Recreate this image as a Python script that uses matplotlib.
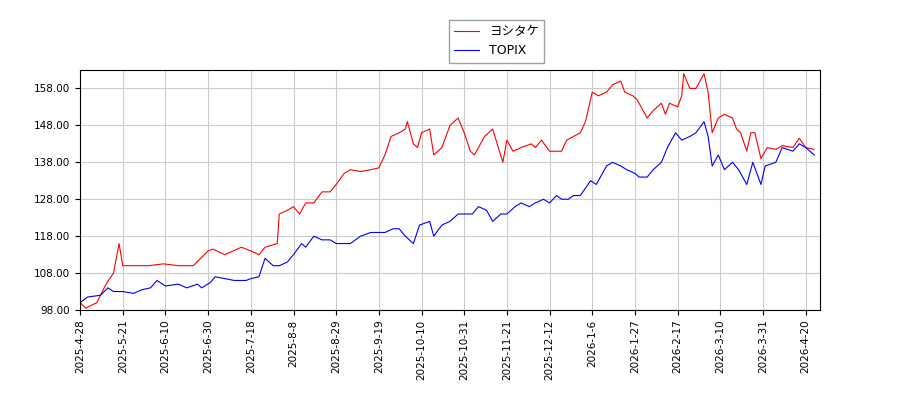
import matplotlib
matplotlib.use("Agg")
import matplotlib.pyplot as plt
import numpy as np
import pandas as pd

plt.rcParams['font.family'] = ['DejaVu Sans', 'Noto Sans CJK JP']

red_dates = ["2025-04-28","2025-05-01","2025-05-07","2025-05-12","2025-05-16","2025-05-19","2025-05-21","2025-05-26","2025-06-02","2025-06-09","2025-06-16","2025-06-23","2025-06-30","2025-07-02","2025-07-07","2025-07-14","2025-07-18","2025-07-22","2025-07-25","2025-07-31","2025-08-01","2025-08-05","2025-08-08","2025-08-11","2025-08-14","2025-08-18","2025-08-22","2025-08-26","2025-08-29","2025-09-02","2025-09-05","2025-09-10","2025-09-15","2025-09-19","2025-09-22","2025-09-25","2025-09-29","2025-10-02","2025-10-03","2025-10-06","2025-10-08","2025-10-10","2025-10-14","2025-10-16","2025-10-20","2025-10-22","2025-10-24","2025-10-28","2025-10-31","2025-11-03","2025-11-05","2025-11-10","2025-11-14","2025-11-19","2025-11-21","2025-11-24","2025-11-28","2025-12-03","2025-12-05","2025-12-08","2025-12-12","2025-12-16","2025-12-19","2025-12-22","2025-12-26","2025-12-30","2026-01-02","2026-01-06","2026-01-09","2026-01-13","2026-01-16","2026-01-20","2026-01-22","2026-01-26","2026-01-28","2026-02-02","2026-02-05","2026-02-09","2026-02-11","2026-02-13","2026-02-17","2026-02-19","2026-02-20","2026-02-23","2026-02-26","2026-03-02","2026-03-04","2026-03-06","2026-03-09","2026-03-12","2026-03-16","2026-03-18","2026-03-20","2026-03-23","2026-03-25","2026-03-27","2026-03-30","2026-04-02","2026-04-06","2026-04-09","2026-04-14","2026-04-17","2026-04-20","2026-04-24"]
red_vals = [100,98.5,100,105,108,116,110,110,110,110.5,110,110,114,114.5,113,115,114,113,115,116,124,125,126,124,127,127,130,130,132,135,136,135.5,136,136.5,140,145,146,147,149,143,142,146,147,140,142,145,148,150,146,141,140,145,147,138,144,141,142,143,142,144,141,141,141,144,145,146,149,157,156,157,159,160,157,156,155,150,152,154,151,154,153,156,162,158,158,162,157,146,150,151,150,147,146,141,146,146,139,142,141.5,142.5,142,144.5,142,141.5]

blue_dates = ["2025-04-28","2025-05-02","2025-05-09","2025-05-13","2025-05-16","2025-05-21","2025-05-26","2025-05-30","2025-06-03","2025-06-06","2025-06-10","2025-06-16","2025-06-20","2025-06-25","2025-06-27","2025-07-01","2025-07-03","2025-07-07","2025-07-11","2025-07-16","2025-07-18","2025-07-22","2025-07-25","2025-07-29","2025-08-01","2025-08-05","2025-08-08","2025-08-12","2025-08-14","2025-08-18","2025-08-22","2025-08-26","2025-08-29","2025-09-02","2025-09-05","2025-09-10","2025-09-15","2025-09-19","2025-09-22","2025-09-26","2025-09-29","2025-10-02","2025-10-06","2025-10-09","2025-10-14","2025-10-16","2025-10-20","2025-10-24","2025-10-28","2025-10-31","2025-11-04","2025-11-07","2025-11-11","2025-11-14","2025-11-18","2025-11-21","2025-11-25","2025-11-28","2025-12-02","2025-12-05","2025-12-09","2025-12-12","2025-12-16","2025-12-19","2025-12-23","2025-12-26","2025-12-30","2026-01-05","2026-01-08","2026-01-13","2026-01-16","2026-01-20","2026-01-23","2026-01-27","2026-01-29","2026-02-02","2026-02-05","2026-02-09","2026-02-12","2026-02-16","2026-02-19","2026-02-23","2026-02-26","2026-03-02","2026-03-04","2026-03-06","2026-03-09","2026-03-12","2026-03-16","2026-03-19","2026-03-23","2026-03-26","2026-03-30","2026-04-01","2026-04-06","2026-04-09","2026-04-14","2026-04-17","2026-04-20","2026-04-24"]
blue_vals = [100,101.5,102,104,103,103,102.5,103.5,104,106,104.5,105,104,105,104,105.5,107,106.5,106,106,106.5,107,112,110,110,111,113,116,115,118,117,117,116,116,116,118,119,119,119,120,120,118,116,121,122,118,121,122,124,124,124,126,125,122,124,124,126,127,126,127,128,127,129,128,128,129,129,133,132,137,138,137,136,135,134,134,136,138,142,146,144,145,146,149,145,137,140,136,138,136,132,138,132,137,138,142,141,143,142,140]

tick_labels = ["2025-4-28","2025-5-21","2025-6-10","2025-6-30","2025-7-18","2025-8-8","2025-8-29","2025-9-19","2025-10-10","2025-10-31","2025-11-21","2025-12-12","2026-1-6","2026-1-27","2026-2-17","2026-3-10","2026-3-31","2026-4-20"]
yticks = [98, 108, 118, 128, 138, 148, 158]

# trading-day style axis: ticks every 15 trading days, dates mapped piecewise
STEP = 15
tick_ord = pd.to_datetime(tick_labels).map(pd.Timestamp.toordinal).to_numpy(dtype=float)
tick_pos = np.arange(len(tick_labels)) * STEP
slope = STEP / (tick_ord[-1] - tick_ord[-2])

def to_pos(dates):
    o = pd.to_datetime(dates).map(pd.Timestamp.toordinal).to_numpy(dtype=float)
    p = np.interp(o, tick_ord, tick_pos)
    p = np.where(o > tick_ord[-1], tick_pos[-1] + (o - tick_ord[-1]) * slope, p)
    return p

fig = plt.figure(figsize=(9, 4), dpi=100)
ax = fig.add_axes([0.089, 0.225, 0.822, 0.6])
ax.plot(to_pos(red_dates), red_vals, color='red', lw=0.8, label='ヨシタケ')
ax.plot(to_pos(blue_dates), blue_vals, color='blue', lw=0.8, label='TOPIX')
ax.set_xticks(tick_pos)
ax.set_xticklabels(tick_labels, rotation=90, fontsize=7.5)
ax.set_yticks(yticks)
ax.set_yticklabels([f"{v:.2f}" for v in yticks], fontsize=7.5)
ax.set_ylim(98, 163)
ax.set_xlim(0, tick_pos[-1] + 5)
ax.grid(True, color='#cccccc', lw=0.8)
fig.legend(loc='upper center', bbox_to_anchor=(0.552, 0.965), fontsize=9, fancybox=False, edgecolor='#888888')
fig.savefig("out.png")
